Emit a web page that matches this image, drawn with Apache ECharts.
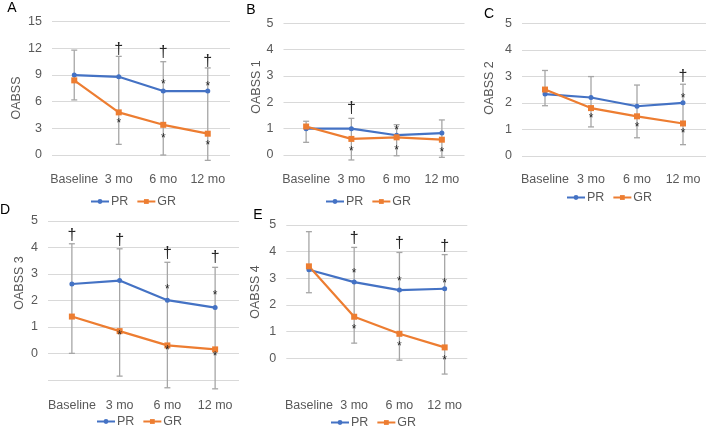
<!DOCTYPE html>
<html>
<head>
<meta charset="utf-8">
<script src="https://cdn.jsdelivr.net/npm/echarts@6/dist/echarts.min.js"></script>
<style>
html, body { margin: 0; padding: 0; background: #fff; }
#main { width: 709px; height: 430px; }
</style>
</head>
<body>
<div id="main"></div>
<script>
var categories = ['Baseline', '3 mo', '6 mo', '12 mo'];

// A - OABSS total
var prA = [9.0, 8.8, 7.2, 7.2];
var grA = [8.4, 4.8, 3.4, 2.4];
var errLowA = [6.2, 1.2, 0.0, -0.6];
var errHighA = [11.8, 11.1, 10.5, 9.8];
var daggerA = [[1, 11.85], [2, 11.5], [3, 10.5]];
var starA = [[1, 3.9], [2, 8.25], [2, 2.2], [3, 8.07], [3, 1.44]];

// B - OABSS 1
var prB = [1.0, 1.0, 0.75, 0.83];
var grB = [1.08, 0.61, 0.67, 0.58];
var errLowB = [0.48, -0.19, -0.03, -0.09];
var errHighB = [1.28, 1.39, 1.15, 1.33];
var daggerB = [[1, 1.75]];
var starB = [[1, 0.25], [2, 1.05], [2, 0.29], [3, 0.2]];

// C - OABSS 2
var prC = [2.33, 2.2, 1.87, 2.0];
var grC = [2.5, 1.8, 1.49, 1.22];
var errLowC = [1.89, 1.09, 0.68, 0.42];
var errHighC = [3.22, 2.99, 2.67, 2.7];
var daggerC = [[3, 2.99]];
var starC = [[1, 1.52], [2, 1.18], [3, 2.28], [3, 0.93]];

// D - OABSS 3
var prD = [2.62, 2.75, 2.01, 1.73];
var grD = [1.39, 0.84, 0.3, 0.15];
var errLowD = [0.0, -0.86, -1.3, -1.34];
var errHighD = [4.14, 3.95, 3.44, 3.25];
var daggerD = [[0, 4.46], [1, 4.27], [2, 3.76], [3, 3.63]];
var starD = [[1, 0.78], [2, 2.53], [2, 0.2], [3, 2.3], [3, -0.01]];

// E - OABSS 4
var prE = [3.32, 2.86, 2.56, 2.61];
var grE = [3.45, 1.56, 0.92, 0.41];
var errLowE = [2.46, 0.57, -0.07, -0.59];
var errHighE = [4.75, 4.16, 3.97, 3.89];
var daggerE = [[1, 4.5], [2, 4.31], [3, 4.18]];
var starE = [[1, 3.27], [1, 1.19], [2, 2.99], [2, 0.54], [3, 2.93], [3, 0.04]];

var panels = [
    {letter: 'A', title: 'OABSS', pr: prA, gr: grA, lo: errLowA, hi: errHighA, dag: daggerA, star: starA,
        grid: {left: 52, top: 21.7, width: 178, height: 160}, min: -3, max: 15, interval: 3, margin: -9,
        legend: {left: 85, top: 190}, letterPos: [12, 8], titlePos: [17, 98]},
    {letter: 'B', title: 'OABSS 1', pr: prB, gr: grB, lo: errLowB, hi: errHighB, dag: daggerB, star: starB,
        grid: {left: 283.5, top: 23.3, width: 181, height: 158}, min: -1, max: 5, interval: 1, margin: -8,
        legend: {left: 320, top: 190}, letterPos: [251, 10], titlePos: [257, 87]},
    {letter: 'C', title: 'OABSS 2', pr: prC, gr: grC, lo: errLowC, hi: errHighC, dag: daggerC, star: starC,
        grid: {left: 522, top: 23.3, width: 184, height: 159}, min: -1, max: 5, interval: 1, margin: -9,
        legend: {left: 561, top: 186}, letterPos: [489, 14], titlePos: [490, 88]},
    {letter: 'D', title: 'OABSS 3', pr: prD, gr: grD, lo: errLowD, hi: errHighD, dag: daggerD, star: starD,
        grid: {left: 48, top: 221, width: 191, height: 185.3}, min: -2, max: 5, interval: 1, margin: -7,
        legend: {left: 91, top: 410}, letterPos: [5, 210], titlePos: [20, 283]},
    {letter: 'E', title: 'OABSS 4', pr: prE, gr: grE, lo: errLowE, hi: errHighE, dag: daggerE, star: starE,
        grid: {left: 286.3, top: 225, width: 181, height: 160}, min: -1, max: 5, interval: 1, margin: 14,
        legend: {left: 325, top: 411}, letterPos: [258, 215], titlePos: [256, 292]}
];

var textColor = '#595959';

function errorItem(params, api) {
    var x = api.value(0);
    var top = api.coord([x, api.value(2)]);
    var bottom = api.coord([x, api.value(1)]);
    var cap = 3;
    var style = {stroke: '#a6a6a6', lineWidth: 1.3};
    return {
        type: 'group',
        children: [
            {type: 'line', shape: {x1: top[0], y1: top[1], x2: bottom[0], y2: bottom[1]}, style: style},
            {type: 'line', shape: {x1: top[0] - cap, y1: top[1], x2: top[0] + cap, y2: top[1]}, style: style},
            {type: 'line', shape: {x1: bottom[0] - cap, y1: bottom[1], x2: bottom[0] + cap, y2: bottom[1]}, style: style}
        ]
    };
}

function markRenderer(symbol, size, dy) {
    return function (params, api) {
        var p = api.coord([api.value(0), api.value(1)]);
        return {
            type: 'text',
            x: p[0],
            y: p[1] + dy,
            style: {text: symbol, fontSize: size, fill: '#262626', align: 'center', verticalAlign: 'middle',
                fontFamily: 'Liberation Sans'}
        };
    };
}

var grids = [], xAxes = [], yAxes = [], legends = [], series = [], graphics = [];

panels.forEach(function (p, i) {
    grids.push(p.grid);
    xAxes.push({
        type: 'category', gridIndex: i, data: categories,
        axisLine: {show: false}, axisTick: {show: false},
        axisLabel: {color: textColor, fontSize: 12.5, margin: p.margin, interval: 0, hideOverlap: false}
    });
    yAxes.push({
        type: 'value', gridIndex: i, min: p.min, max: p.max, interval: p.interval,
        axisLine: {show: false}, axisTick: {show: false},
        axisLabel: {color: textColor, fontSize: 12.5, margin: 10, formatter: function (v) { return v < 0 ? '' : v; }},
        splitLine: {showMinLine: false, lineStyle: {color: '#d9d9d9', width: 1}}
    });
    legends.push({
        data: ['PR', 'GR'], left: p.legend.left, top: p.legend.top,
        itemWidth: 18, itemHeight: 6, itemGap: 8,
        textStyle: {color: textColor, fontSize: 12.5, padding: [0, 0, 0, -3]}
    });

    var errData = [];
    for (var k = 0; k < categories.length; k++) {
        errData.push([k, p.lo[k], p.hi[k]]);
    }
    series.push({
        name: 'err' + p.letter, type: 'custom', xAxisIndex: i, yAxisIndex: i,
        renderItem: errorItem, data: errData, z: 1, silent: true
    });
    series.push({
        name: 'PR', type: 'line', xAxisIndex: i, yAxisIndex: i, data: p.pr,
        symbol: 'circle', symbolSize: 5, color: '#4472c4',
        lineStyle: {width: 2.2, color: '#4472c4'}, z: 3
    });
    series.push({
        name: 'GR', type: 'line', xAxisIndex: i, yAxisIndex: i, data: p.gr,
        symbol: 'rect', symbolSize: 6, color: '#ed7d31',
        lineStyle: {width: 2.2, color: '#ed7d31'}, z: 3
    });
    series.push({
        name: 'star' + p.letter, type: 'custom', xAxisIndex: i, yAxisIndex: i,
        renderItem: markRenderer('*', 12, 3), data: p.star, z: 4, silent: true
    });
    series.push({
        name: 'dagger' + p.letter, type: 'custom', xAxisIndex: i, yAxisIndex: i,
        renderItem: markRenderer('\u2020', 16, 0), data: p.dag, z: 4, silent: true
    });

    graphics.push({
        type: 'text', x: p.letterPos[0], y: p.letterPos[1],
        style: {text: p.letter, fontSize: 14, fill: '#000', align: 'center', verticalAlign: 'middle',
            fontFamily: 'Liberation Sans'}
    });
    graphics.push({
        type: 'text', x: p.titlePos[0], y: p.titlePos[1], rotation: Math.PI / 2,
        style: {text: p.title, fontSize: 12.5, fill: textColor, align: 'center', verticalAlign: 'middle',
            fontFamily: 'Liberation Sans'}
    });
});

var myChart = echarts.init(document.getElementById('main'));

var option = {
    animation: false,
    backgroundColor: '#fff',
    textStyle: {fontFamily: 'Liberation Sans'},
    grid: grids,
    xAxis: xAxes,
    yAxis: yAxes,
    legend: legends,
    series: series,
    graphic: graphics
};
myChart.setOption(option);
</script>
</body>
</html>
